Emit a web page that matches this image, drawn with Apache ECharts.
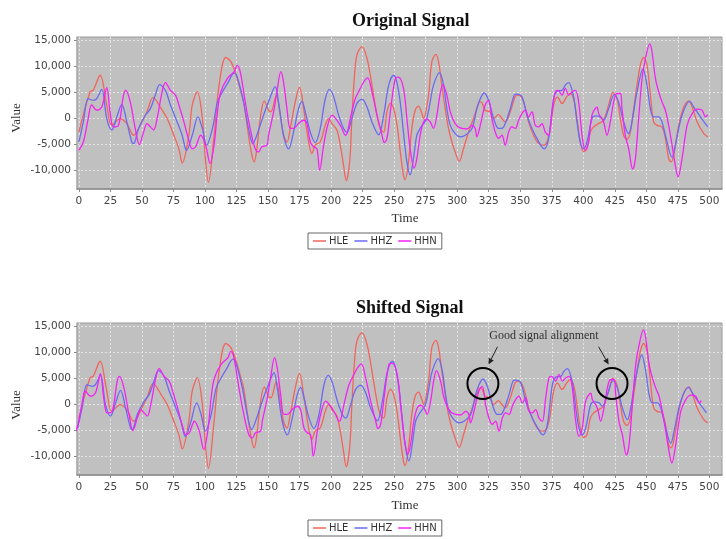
<!DOCTYPE html>
<html>
<head>
<meta charset="utf-8">
<script src="https://cdn.jsdelivr.net/npm/echarts@6/dist/echarts.min.js"></script>
<style>
html,body{margin:0;padding:0;background:#fff}
#main{width:726px;height:539px}
</style>
</head>
<body>
<div id="main"></div>
<script>
// tick labels
var X_TICKS = [0,25,50,75,100,125,150,175,200,225,250,275,300,325,350,375,400,425,450,475,500];
var Y_TICKS = [-10000,-5000,0,5000,10000,15000];
var NAMES = ['HLE','HHZ','HHN'];
var COLORS = ['#f2645c','#6a6af2','#f522f5'];

// [time, value]
var HLE = [[0,-2600],[8.8,5100],[11.4,5450],[16.8,8300],[22.1,2560],[26.1,-1300],[32.7,0],[38,-960],[43.4,-3200],[50,-640],[54,1300],[58.8,4000],[66,1600],[70,0],[75.3,-3200],[79.3,-5800],[82,-8500],[87.2,-3200],[89.9,2600],[93.9,5100],[97.9,0],[100.5,-8300],[102.7,-12200],[107.2,-3200],[111.2,6400],[116.5,11700],[120.5,10900],[124.5,8500],[128.5,5100],[130.6,3200],[134.5,-3200],[137.2,-7000],[139,-8300],[141.1,-5800],[143.8,0],[147,3400],[150.4,1600],[152.3,1300],[156.5,4400],[159.7,640],[162.3,-3200],[165,-4500],[167.6,-1900],[171.6,3200],[175,6000],[178.2,1900],[182.2,-4500],[184.8,-6700],[187.4,-5100],[191.4,-4500],[195.4,-1300],[198,0],[200.7,-960],[204.6,-2200],[207.3,-5100],[209.9,-9000],[212,-11900],[214.7,-8300],[216.5,0],[218.4,7700],[220.5,12200],[224.5,13800],[228.5,11500],[231.1,8300],[233.7,4500],[236.4,640],[239,-1900],[241.7,-2600],[244.3,1300],[247,2900],[249.6,1900],[252.3,-1300],[254.9,-6400],[257.4,-10900],[258.7,-11700],[261.4,-8300],[264,-1900],[266.7,1600],[269.3,2400],[272,960],[273.3,0],[277.3,4500],[279.9,10900],[283.1,12300],[285.2,10900],[287.8,6400],[290.5,1900],[293.1,-1900],[295.8,-4500],[298.4,-6400],[301.6,-8200],[305,-5800],[309,-2600],[313,0],[316.9,2900],[318.8,3200],[322.2,1600],[326.2,1300],[328.9,0],[332.8,770],[335.5,0],[338.1,-640],[342.1,1300],[346,4200],[348.7,4500],[352.7,3200],[356.6,-640],[360.6,-3200],[364.6,-4800],[368.5,-5100],[371.2,-4500],[373.8,-1900],[376.5,2600],[379.5,4100],[383.1,2900],[387,4200],[389.7,4800],[392.3,3800],[395,0],[397.6,-4500],[400.3,-6300],[402.9,-5800],[405.6,-2600],[408.2,-1600],[412.2,-960],[416.1,-320],[420.1,2600],[423.6,5000],[426.7,3800],[429.4,0],[432,-3200],[434.7,-4000],[437.3,-2600],[440,1900],[442.6,6400],[445.3,10300],[447.9,11700],[450.5,10300],[453.2,4500],[455.8,-640],[458.5,-1300],[462.4,-1600],[465.1,-3800],[467.7,-7700],[469.6,-8300],[471.7,-7000],[475.7,-1300],[479.7,2200],[483.7,3400],[486.3,2200],[490.3,-640],[495.6,-2900],[498.7,-3500]];

var HHZ = [[0,-4500],[3.5,-640],[7.4,3800],[11.4,3500],[14.1,3800],[18.1,5600],[22.1,0],[26.1,-2200],[30.1,320],[34,2700],[38,-640],[42,-4500],[43.4,-4800],[47.3,-1900],[52.7,640],[56.7,1900],[60.6,4500],[64.1,6500],[68.6,5400],[72.6,2600],[77.9,-640],[81.9,-3200],[85.4,-6100],[89.9,-3200],[94.4,320],[97.9,-1900],[101.3,-5100],[105.9,-1900],[109.9,3200],[113.8,5100],[117.8,6700],[123.2,8700],[125.5,8000],[130.6,3200],[134.5,-1900],[138,-4800],[141.1,-3200],[146.4,640],[150.4,3200],[155.7,6100],[158.3,3200],[162.3,-3200],[166.3,-5800],[170.2,-2600],[174.2,1900],[176.9,3300],[179.5,1300],[183.5,-2600],[187.4,-4600],[191.4,-1900],[195.4,3800],[198.8,5600],[202,4200],[206,640],[209.9,-1900],[212.6,-2600],[216.5,0],[220.5,2900],[224.5,3700],[228.5,2200],[232.4,-640],[237.7,-3100],[241.7,640],[245.7,6400],[249.6,8300],[252.1,7000],[254.8,3200],[257.4,-2600],[260.1,-8300],[262.7,-10800],[265.3,-7700],[268,-3200],[270.6,-1900],[273.3,-960],[275.9,0],[278.6,3200],[281.2,6400],[286,8800],[289.2,6400],[291.8,1900],[294.5,-1300],[298.4,-2900],[302.4,-3500],[306.4,-3200],[311.7,-1900],[315.6,1900],[318.3,3800],[321.4,4900],[324.9,3500],[328.9,0],[332.8,-1900],[335.5,-1900],[338.1,-960],[342.1,1900],[345.3,4500],[347.4,4700],[351.3,4200],[355.3,640],[359.3,-1900],[363.2,-3800],[369,-5800],[372.5,-3800],[376.5,3800],[379.5,5300],[383.1,5400],[385.7,6400],[388.4,6900],[392.3,4200],[395,-640],[397.6,-4500],[400.3,-5800],[402.9,-4500],[406.9,0],[409.5,500],[413.5,320],[416.1,-320],[420.1,1900],[424.6,4600],[428,3200],[432,-640],[436,-2900],[438.6,-640],[442.6,5100],[447.4,9500],[450.5,6400],[453.2,1900],[455.8,320],[459.8,320],[462.4,-640],[465.1,-3200],[470.4,-7400],[473,-5100],[478.3,640],[484.4,3300],[487.6,2200],[492.9,320],[498.7,-1600]];

var HHN = [[0,-6100],[3.5,-4500],[7.4,0],[10.1,2600],[14.1,1600],[18.1,2200],[22.1,5900],[24.7,1300],[27.4,-1600],[31.4,-1300],[35.4,4500],[37.2,5400],[40.7,3200],[44.7,-1900],[47.9,-5000],[51.3,-2600],[54,-960],[56.7,-1600],[59.3,-2200],[62,0],[66,5100],[68.6,6900],[72.6,5400],[76.6,4500],[79.3,2600],[83.3,-640],[87.2,-4200],[89.9,-5800],[92.6,-5400],[96.6,-3200],[100.5,-5100],[104,-8600],[107.2,-5100],[109.9,1300],[112.5,5100],[117.8,7700],[123.2,9000],[125.5,10200],[127.9,9000],[131.9,3200],[135.8,-1900],[139.8,-5800],[142.5,-6400],[145.1,-5400],[149.1,-5100],[150.4,-3200],[154.4,1300],[157,5100],[160.2,9000],[162.3,7000],[165,1900],[167.6,-1900],[170.2,-1900],[172.9,-1300],[175.5,-640],[178.2,-320],[180.8,-960],[183.5,-4500],[186.1,-5400],[188.8,-5800],[190.9,-9900],[194.1,-5100],[196.7,-1900],[200.7,640],[204.6,-320],[208.6,-1900],[211.3,-3200],[212.6,-2900],[215.2,0],[219.2,3800],[223.2,5800],[225.8,7000],[229,7800],[232.4,5100],[236.4,640],[240.4,-3200],[242.2,-4600],[244.3,-3800],[247,1300],[250.9,7700],[253.5,7950],[257.4,5800],[260.1,0],[262.7,-5800],[265.9,-9500],[268,-7700],[270.6,-3200],[273.3,-640],[275.9,-130],[278.6,-640],[281.2,-1900],[283.9,640],[286.5,4800],[288.6,6500],[291.8,4500],[294.5,1300],[298.4,-960],[302.4,-1800],[307.7,-2000],[311.7,-1300],[314.3,-1900],[315.6,-3500],[318.3,-1300],[322.2,2600],[324.9,3500],[327.5,0],[330.2,-2600],[332.8,-3800],[335.5,-3200],[338.1,-5100],[340.8,-2600],[343.4,-1600],[346.1,-1900],[348.7,-320],[351.3,960],[354,1600],[356.6,320],[359.3,1300],[361.9,-1300],[364.6,-1600],[367.2,-960],[369.9,-2600],[372.5,-3200],[375.2,1300],[377.8,5100],[380,5400],[383.1,4500],[385.7,5800],[388.4,4500],[391,5100],[393.7,5400],[396.3,3200],[399,-3200],[401.6,-6100],[404.2,-4500],[406.9,640],[410.9,2200],[412.2,960],[416.1,-640],[418.8,-3200],[421.4,-640],[424.1,3200],[426.7,4800],[429.4,4800],[430.7,1900],[433.3,-3200],[436,-5800],[439.2,-9700],[441.3,-7700],[443.9,0],[446.6,7700],[449.3,11500],[452.7,14300],[454.5,12800],[457.2,7700],[459.8,5100],[462.4,3200],[465.1,1600],[467.7,-1300],[470.4,-5100],[473,-9000],[475.2,-11200],[478.3,-7700],[482.3,-1300],[486.3,960],[490.2,1800],[494.2,1600],[496.8,320],[498.7,770]];

// time shift of each channel in the lower chart
var SHIFTS = [0, 1, 5];
// circled peaks [time, value] in the lower chart
var CIRCLES = [[320.4, 4040], [422.8, 4040]];

var myChart = echarts.init(document.getElementById('main'));

function makeX(i) {
    return {
        type: 'value', gridIndex: i, min: -1.5, max: 510,
        axisLine: {onZero: false, lineStyle: {color: '#8c8c8c', width: 1.5}},
        axisTick: {customValues: X_TICKS, length: 3, lineStyle: {color: '#8c8c8c'}},
        axisLabel: {customValues: X_TICKS, color: '#444', fontSize: 10.5, fontFamily: 'DejaVu Sans', margin: 7},
        splitLine: {show: true, lineStyle: {color: '#e4e4e4', type: [2, 2], width: 1}}
    };
}
function makeY(i) {
    return {
        type: 'value', gridIndex: i, min: -13500, max: 15630,
        axisLine: {onZero: false, lineStyle: {color: '#b0b0b0', width: 1.5}},
        axisTick: {customValues: Y_TICKS, length: 3, lineStyle: {color: '#8c8c8c'}},
        axisLabel: {customValues: Y_TICKS, color: '#444', fontSize: 10.5, fontFamily: 'DejaVu Sans', margin: 6,
            formatter: function (v) { return v.toLocaleString('en-US'); }},
        splitLine: {show: true, lineStyle: {color: '#e4e4e4', type: [2, 2], width: 1}}
    };
}
function makeLegend(top) {
    return {
        left: 308, top: top, data: NAMES, icon: 'rect', itemWidth: 13, itemHeight: 1.5, itemGap: 6,
        padding: [3, 5], borderColor: '#666', borderWidth: 1,
        textStyle: {fontSize: 10, fontFamily: 'DejaVu Sans', color: '#333', padding: [0, 0, 0, -2]}
    };
}

var raw = [HLE, HHZ, HHN];
var series = [];
for (var g = 0; g < 2; g++) {
    for (var k = 0; k < 3; k++) {
        var sh = g === 0 ? 0 : SHIFTS[k];
        series.push({
            name: NAMES[k], type: 'line', xAxisIndex: g, yAxisIndex: g,
            data: raw[k].map(function (p) { return [p[0] - sh, p[1]]; }),
            symbol: 'none', smooth: 0.35, clip: true,
            lineStyle: {color: COLORS[k], width: 1.3}, itemStyle: {color: COLORS[k]},
            z: 2 + k
        });
    }
}

var serif = 'Liberation Serif';
var option = {
    animation: false,
    backgroundColor: '#fff',
    title: [
        {text: 'Original Signal', left: 347, top: 7, textStyle: {fontFamily: serif, fontWeight: 'bold', fontSize: 18, color: '#111'}},
        {text: 'Shifted Signal', left: 351, top: 294, textStyle: {fontFamily: serif, fontWeight: 'bold', fontSize: 18, color: '#111'}}
    ],
    grid: [
        {left: 77, right: 4, top: 37, height: 152, show: true, backgroundColor: '#c0c0c0', borderColor: '#9a9a9a', borderWidth: 1},
        {left: 77, right: 4, top: 323, height: 152, show: true, backgroundColor: '#c0c0c0', borderColor: '#9a9a9a', borderWidth: 1}
    ],
    xAxis: [makeX(0), makeX(1)],
    yAxis: [makeY(0), makeY(1)],
    legend: [makeLegend(233), makeLegend(520)],
    series: series
};
myChart.setOption(option);

// axis names and the alignment annotation
function arrow(x1, y1, x2, y2) {
    var a = Math.atan2(y2 - y1, x2 - x1), L = 6, w = 2.8;
    var bx = x2 - L * Math.cos(a), by = y2 - L * Math.sin(a);
    var px = -Math.sin(a) * w, py = Math.cos(a) * w;
    return [
        {type: 'line', z: 100, shape: {x1: x1, y1: y1, x2: bx, y2: by}, style: {stroke: '#222', lineWidth: 1}},
        {type: 'polygon', z: 100, shape: {points: [[x2, y2], [bx + px, by + py], [bx - px, by - py]]}, style: {fill: '#222'}}
    ];
}
var c1 = myChart.convertToPixel({xAxisIndex: 1, yAxisIndex: 1}, CIRCLES[0]);
var c2 = myChart.convertToPixel({xAxisIndex: 1, yAxisIndex: 1}, CIRCLES[1]);
var nameStyle = {fill: '#333', font: '13px "Liberation Serif"', textAlign: 'center', textVerticalAlign: 'middle'};
var graphic = [
    {type: 'text', x: 405, y: 219, style: Object.assign({text: 'Time'}, nameStyle)},
    {type: 'text', x: 405, y: 506, style: Object.assign({text: 'Time'}, nameStyle)},
    {type: 'text', x: 17, y: 118, rotation: Math.PI / 2, style: Object.assign({text: 'Value'}, nameStyle)},
    {type: 'text', x: 17, y: 405, rotation: Math.PI / 2, style: Object.assign({text: 'Value'}, nameStyle)},
    {type: 'circle', z: 100, shape: {cx: c1[0], cy: c1[1], r: 15.5}, style: {fill: 'none', stroke: '#000', lineWidth: 2}},
    {type: 'circle', z: 100, shape: {cx: c2[0], cy: c2[1], r: 15.5}, style: {fill: 'none', stroke: '#000', lineWidth: 2}},
    {type: 'text', z: 100, x: (c1[0] + c2[0]) / 2 - 3.5, y: c1[1] - 48,
        style: {text: 'Good signal alignment', fill: '#333', font: '12px "Liberation Serif"', textAlign: 'center', textVerticalAlign: 'middle'}}
];
graphic = graphic.concat(arrow(c1[0] + 14.6, c1[1] - 36.7, c1[0] + 5.6, c1[1] - 19));
graphic = graphic.concat(arrow(c2[0] - 13.4, c2[1] - 36.7, c2[0] - 3.4, c2[1] - 19));
myChart.setOption({graphic: graphic});
</script>
</body>
</html>
